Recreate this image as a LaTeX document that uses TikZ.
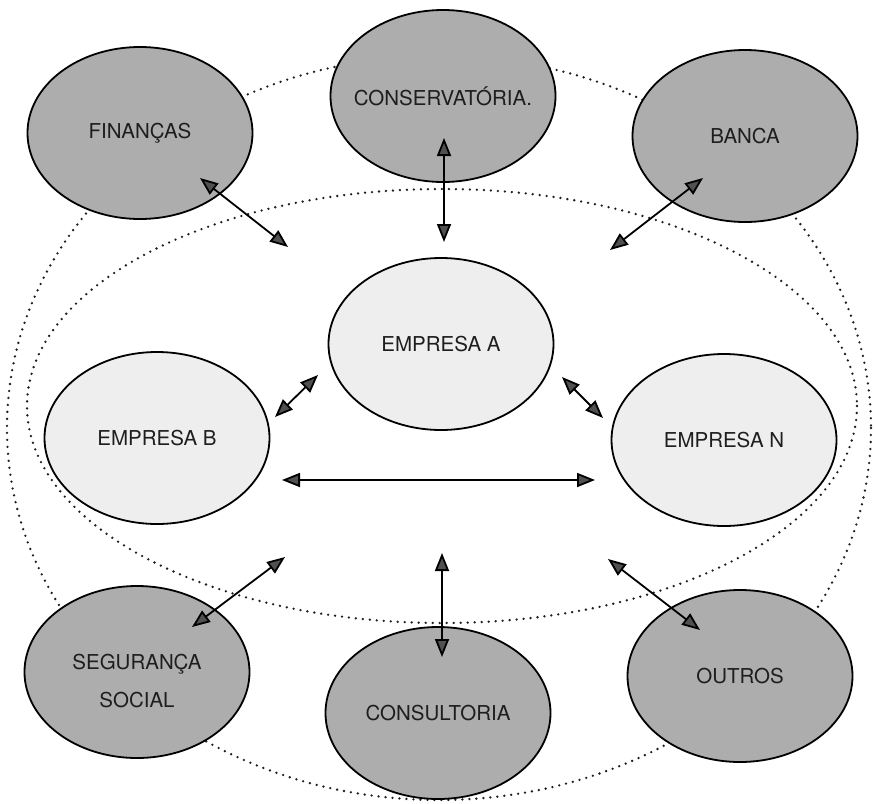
\documentclass[tikz,border=0pt]{standalone}
\usepackage{fontspec}
\setmainfont{TeX Gyre Heros}
\usepackage{tikz}
\usetikzlibrary{arrows.meta,shapes.geometric}
\definecolor{orgdark}{HTML}{ADADAD}
\definecolor{orglight}{HTML}{EEEEEE}
\definecolor{orgtip}{HTML}{505050}
\definecolor{orgink}{HTML}{1E1E1E}

\begin{document}
\begin{tikzpicture}[x=1pt,y=-1pt,
      org/.style={ellipse,draw,line width=1.8pt,minimum width=225pt,
                  minimum height=172pt,inner xsep=-15pt,inner ysep=0pt,align=center,
                  font=\fontsize{20.5}{38}\selectfont,text=orgink},
      ext/.style={org,fill=orgdark},
      firm/.style={org,fill=orglight},
      ring/.style={line width=2.6pt,line cap=round,dash pattern=on 0pt off 7pt,orgink},
      arr/.style={{Triangle[length=18pt,width=14pt,fill=orgtip]}-{Triangle[length=18pt,width=14pt,fill=orgtip]},
                  line width=1.8pt}]
    \useasboundingbox (0,0) rectangle (874,803);
    \draw[ring] (439,428) ellipse [x radius=432,y radius=372];
    \draw[ring] (442,406) ellipse [x radius=415,y radius=217];
    \node[firm] (empA) at (441,344) {EMPRESA A};
    \node[firm] (empB) at (157,438) {EMPRESA B};
    \node[firm] (empN) at (724,440) {EMPRESA N};
    \node[ext] (fin) at (140,133) {FINANÇAS};
    \node[ext] (cons) at (443,96) {CONSERVATÓRIA.};
    \node[ext] (banca) at (745,136) {BANCA};
    \node[ext,text height=71pt] (seg) at (137,672) {SEGURANÇA\\SOCIAL};
    \node[ext] (consult) at (438,713) {CONSULTORIA};
    \node[ext] (outros) at (740,676) {OUTROS};
    \coordinate (finA) at (200,178); \coordinate (finB) at (288,247);
    \coordinate (consA) at (444,138); \coordinate (consB) at (444,242);
    \coordinate (bancaA) at (703,178); \coordinate (bancaB) at (610,250);
    \coordinate (abA) at (318,375); \coordinate (abB) at (275,417);
    \coordinate (anA) at (562,377); \coordinate (anB) at (603,418);
    \coordinate (bnA) at (282,480); \coordinate (bnB) at (595,480);
    \coordinate (segA) at (285,557); \coordinate (segB) at (192,627);
    \coordinate (consultA) at (442,553); \coordinate (consultB) at (442,657);
    \coordinate (outrosA) at (608,559); \coordinate (outrosB) at (700,630);
    \draw[arr] (finA) -- (finB); \draw[arr] (consA) -- (consB); \draw[arr] (bancaA) -- (bancaB);
    \draw[arr] (abA) -- (abB); \draw[arr] (anA) -- (anB); \draw[arr] (bnA) -- (bnB);
    \draw[arr] (segA) -- (segB); \draw[arr] (consultA) -- (consultB); \draw[arr] (outrosA) -- (outrosB);
  \end{tikzpicture}
\end{document}
